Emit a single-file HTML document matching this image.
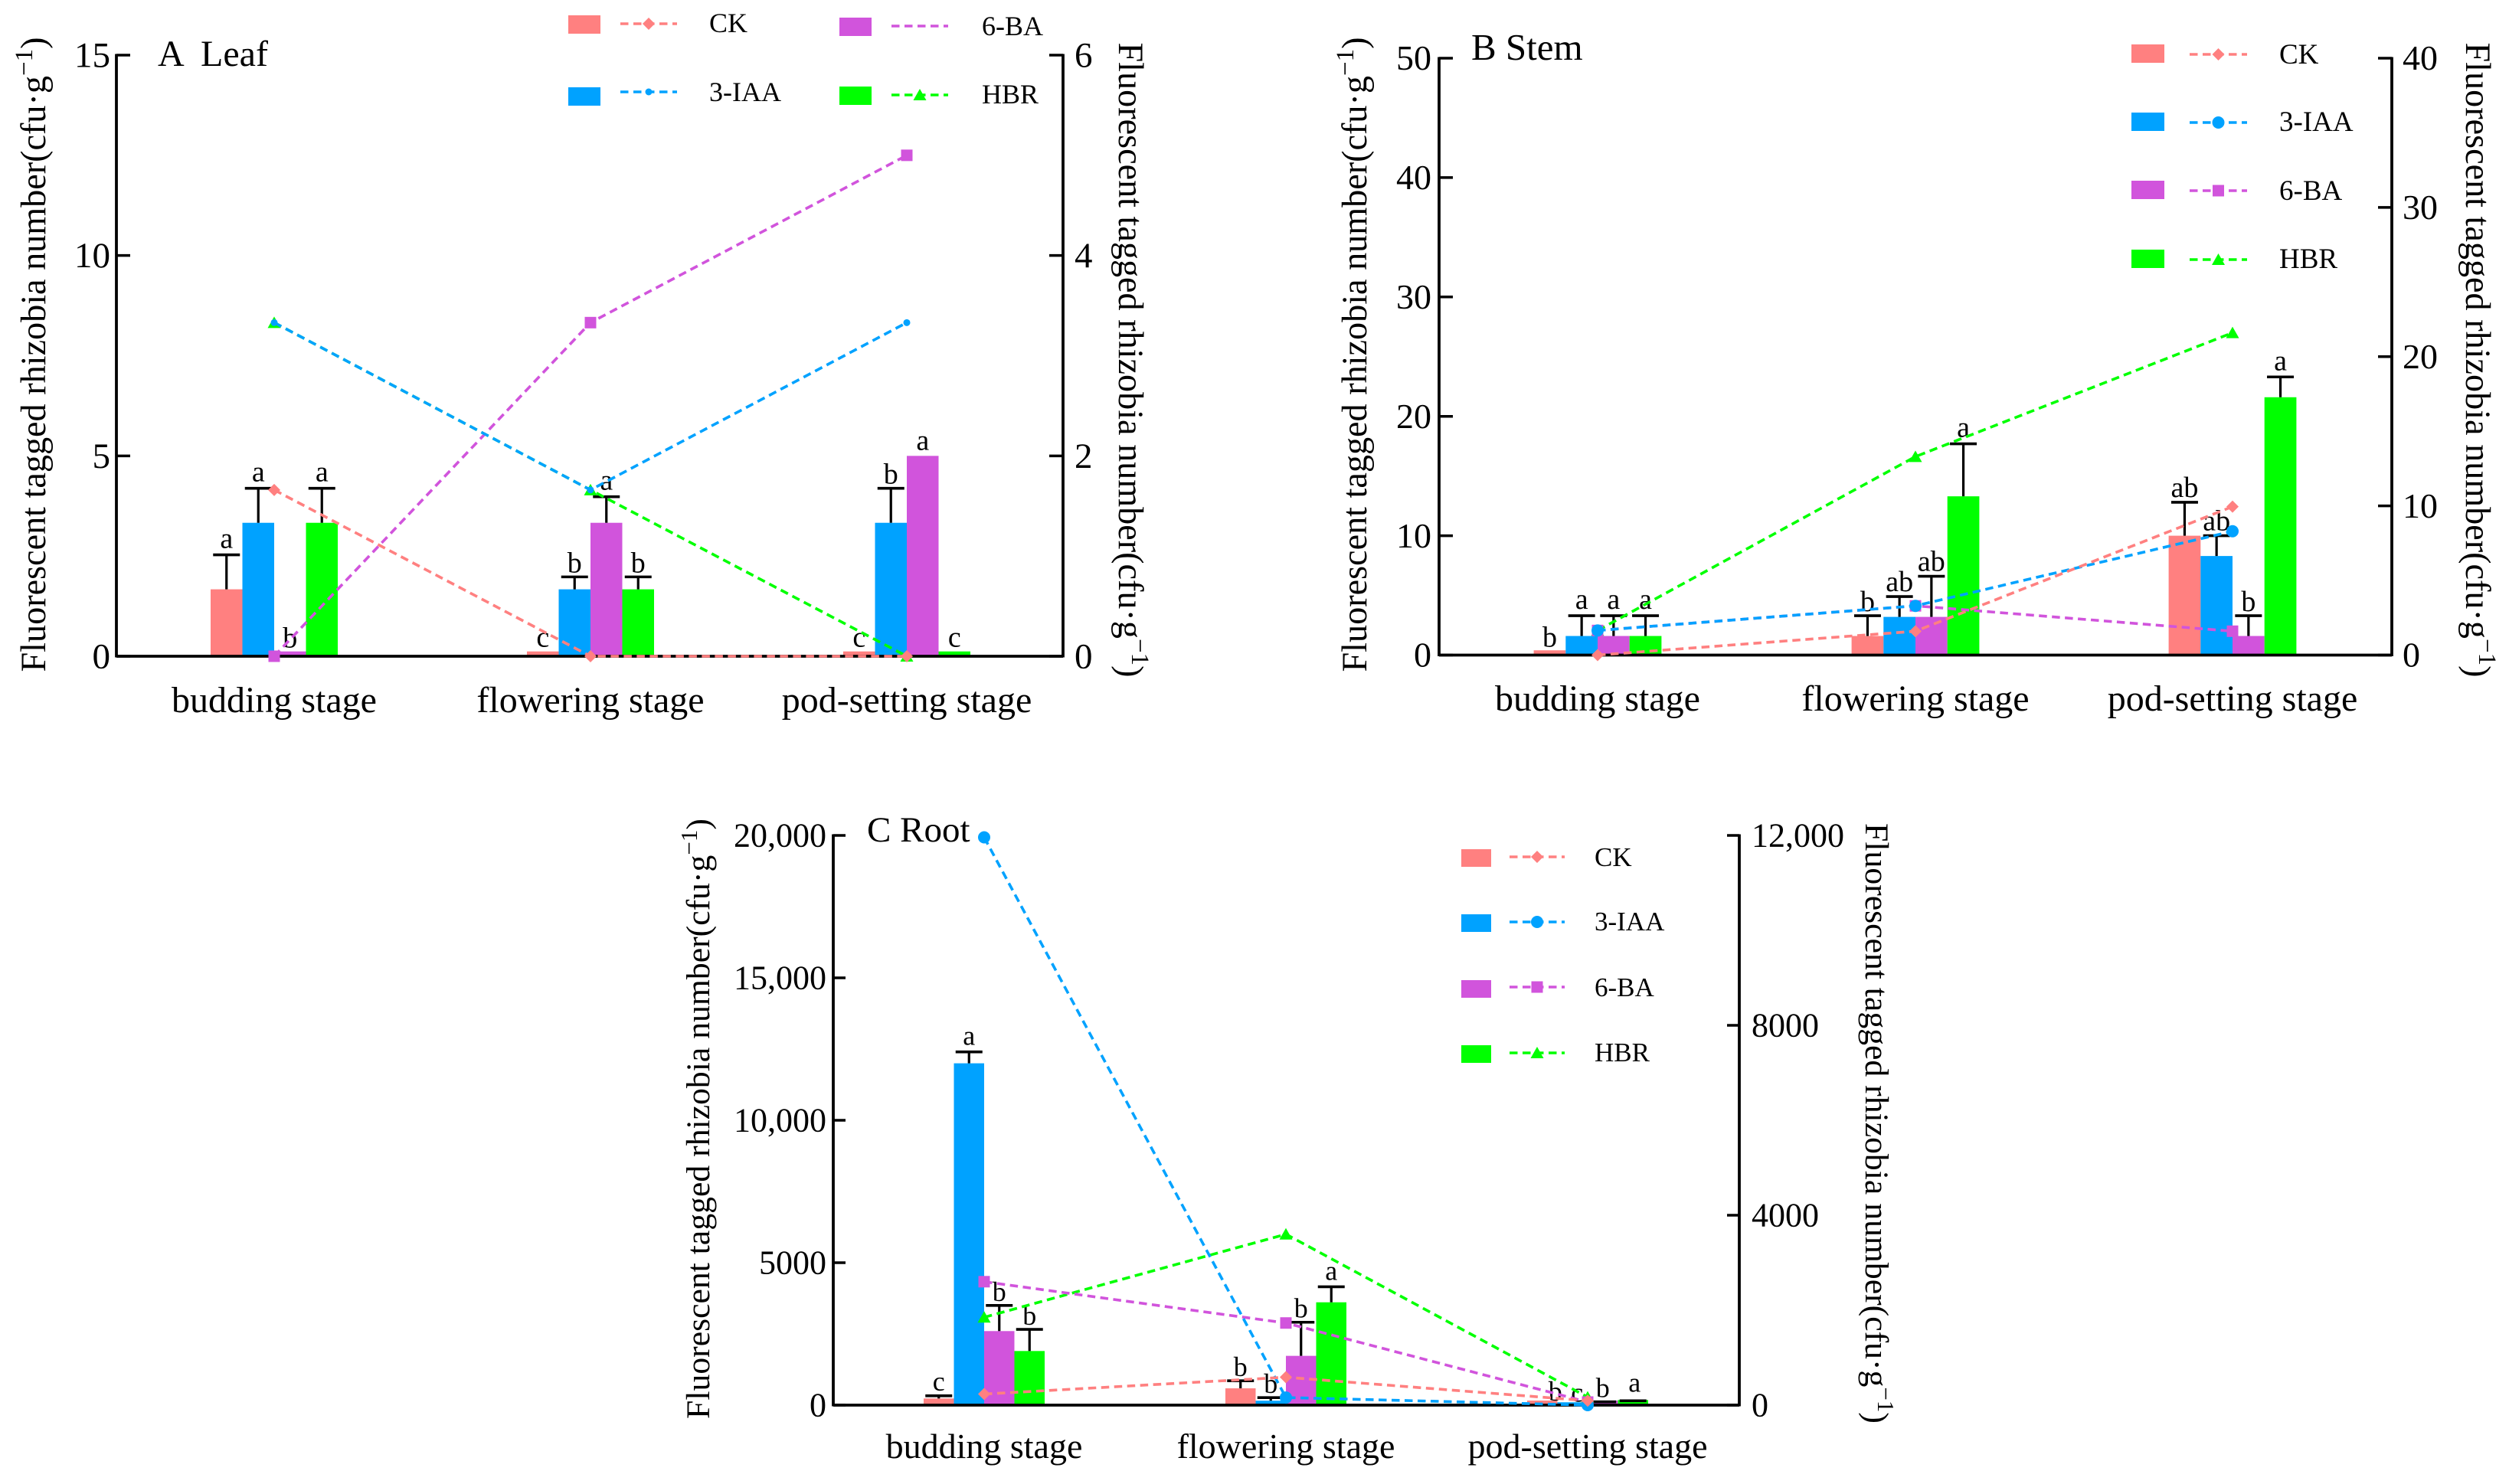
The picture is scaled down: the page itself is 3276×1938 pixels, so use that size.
<!DOCTYPE html>
<html lang="en">
<head>
<meta charset="utf-8">
<title>Fluorescent tagged rhizobia number</title>
<style>
html,body{margin:0;padding:0;background:#fff;}
svg{display:block;}
text{font-family:"Liberation Serif","Times New Roman",serif;fill:#000;}
</style>
</head>
<body>
<svg id="fig" xmlns="http://www.w3.org/2000/svg" width="3276" height="1938" viewBox="0 0 3276 1938">
<rect x="0" y="0" width="3276" height="1938" fill="#fff"/>

<text transform="translate(59,463) rotate(-90)" text-anchor="middle" font-size="46.2">Fluorescent tagged rhizobia number(cfu·g<tspan dy="-17" font-size="33">−1</tspan><tspan dy="17">)</tspan></text>
<text transform="translate(1461,470) rotate(90)" text-anchor="middle" font-size="46.2">Fluorescent tagged rhizobia number(cfu·g<tspan dy="-17" font-size="33">−1</tspan><tspan dy="17">)</tspan></text>
<text x="206" y="86" font-size="48" xml:space="preserve">A  Leaf</text>

<text transform="translate(1784,463) rotate(-90)" text-anchor="middle" font-size="46.2">Fluorescent tagged rhizobia number(cfu·g<tspan dy="-17" font-size="33">−1</tspan><tspan dy="17">)</tspan></text>
<text transform="translate(3220,470) rotate(90)" text-anchor="middle" font-size="46.2">Fluorescent tagged rhizobia number(cfu·g<tspan dy="-17" font-size="33">−1</tspan><tspan dy="17">)</tspan></text>
<text x="1921" y="78" font-size="49">B Stem</text>

<text transform="translate(926,1461) rotate(-90)" text-anchor="middle" font-size="43.7">Fluorescent tagged rhizobia number(cfu·g<tspan dy="-16" font-size="31">−1</tspan><tspan dy="16">)</tspan></text>
<text transform="translate(2436,1467) rotate(90)" text-anchor="middle" font-size="43.7">Fluorescent tagged rhizobia number(cfu·g<tspan dy="-16" font-size="31">−1</tspan><tspan dy="16">)</tspan></text>
<text x="1132" y="1099" font-size="47">C Root</text>
</svg>

<script>
// ---------- shared data ----------
const categories = ["budding stage", "flowering stage", "pod-setting stage"];
const seriesNames = ["CK", "3-IAA", "6-BA", "HBR"];
const seriesColors = ["#FF8080", "#00A2FF", "#D154DC", "#00FF00"];

// ---------- A Leaf ----------
const leafTicksLeft = [0, 5, 10, 15];
const leafTickLabelsLeft = ["0", "5", "10", "15"];
const leafTicksRight = [0, 2, 4, 6];
const leafTickLabelsRight = ["0", "2", "4", "6"];
const leafBarCK = [1.67, 0.12, 0.12];
const leafBarIAA = [3.33, 1.67, 3.33];
const leafBarBA = [0.12, 3.33, 5.0];
const leafBarHBR = [3.33, 1.67, 0.12];
const leafErrCK = [2.53, null, null];
const leafErrIAA = [4.19, 1.98, 4.19];
const leafErrBA = [null, 3.98, null];
const leafErrHBR = [4.19, 1.98, null];
const leafLineCK = [1.66, 0, 0];
const leafLineIAA = [3.33, 1.66, 3.33];
const leafLineBA = [0, 3.33, 5.0];
const leafLineHBR = [3.33, 1.66, 0];
const leafLettersCK = ["a", "c", "c"];
const leafLettersIAA = ["a", "b", "b"];
const leafLettersBA = ["b", "a", "a"];
const leafLettersHBR = ["a", "b", "c"];

// ---------- B Stem ----------
const stemTicksLeft = [0, 10, 20, 30, 40, 50];
const stemTickLabelsLeft = ["0", "10", "20", "30", "40", "50"];
const stemTicksRight = [0, 10, 20, 30, 40];
const stemTickLabelsRight = ["0", "10", "20", "30", "40"];
const stemBarCK = [0.4, 1.6, 10.0];
const stemBarIAA = [1.6, 3.2, 8.3];
const stemBarBA = [1.6, 3.2, 1.6];
const stemBarHBR = [1.6, 13.3, 21.6];
const stemErrCK = [null, 3.3, 12.8];
const stemErrIAA = [3.3, 4.9, 10.0];
const stemErrBA = [3.3, 6.6, 3.3];
const stemErrHBR = [3.3, 17.7, 23.3];
const stemLineCK = [0, 1.6, 9.95];
const stemLineIAA = [1.65, 3.3, 8.3];
const stemLineBA = [1.65, 3.3, 1.6];
const stemLineHBR = [1.65, 13.3, 21.6];
const stemLettersCK = ["b", "b", "ab"];
const stemLettersIAA = ["a", "ab", "ab"];
const stemLettersBA = ["a", "ab", "b"];
const stemLettersHBR = ["a", "a", "a"];

// ---------- C Root ----------
const rootTicksLeft = [0, 5000, 10000, 15000, 20000];
const rootTickLabelsLeft = ["0", "5000", "10,000", "15,000", "20,000"];
const rootTicksRight = [0, 4000, 8000, 12000];
const rootTickLabelsRight = ["0", "4000", "8000", "12,000"];
const rootBarCK = [233, 590, 160];
const rootBarIAA = [12000, 155, 100];
const rootBarBA = [2600, 1730, 160];
const rootBarHBR = [1900, 3610, 180];
const rootErrCK = [327, 856, null];
const rootErrIAA = [12400, 265, null];
const rootErrBA = [3500, 2910, 115];
const rootErrHBR = [2660, 4155, 153];
const rootLineCK = [233, 588, 93];
const rootLineIAA = [11960, 160, 0];
const rootLineBA = [2600, 1730, 65];
const rootLineHBR = [1850, 3600, 168];
const rootLettersCK = ["c", "b", "b"];
const rootLettersIAA = ["a", "b", "c"];
const rootLettersBA = ["b", "b", "b"];
const rootLettersHBR = ["b", "a", "a"];

// ---------- layout ----------
const letterGaps = { a: 9, b: 6, c: 7, ab: 7 };
const panels = [
  { id: "leaf", left: 152, right: 1388, top: 72, bottom: 857, centers: [358, 771, 1184], barW: 41.5,
    maxL: 15, maxR: 6, ticksL: leafTicksLeft, labelsL: leafTickLabelsLeft, ticksR: leafTicksRight, labelsR: leafTickLabelsRight,
    bars: [leafBarCK, leafBarIAA, leafBarBA, leafBarHBR], errs: [leafErrCK, leafErrIAA, leafErrBA, leafErrHBR],
    lines: [leafLineCK, leafLineIAA, leafLineBA, leafLineHBR], letters: [leafLettersCK, leafLettersIAA, leafLettersBA, leafLettersHBR],
    tickFont: 47, catFont: 48, catBase: 930, letterFont: 38, tickLen: 18, gapL: 8, gapR: 15, circleR: 4.5, letterAdjust: {},
    legend: { font: 36, swW: 42, swH: 24, lineW: 74, items: [
      { sx: 742, sy: 20, lx: 810, ly: 31, tx: 926, ty: 42 },
      { sx: 742, sy: 114, lx: 810, ly: 120, tx: 926, ty: 132 },
      { sx: 1096, sy: 23, lx: 1164, ly: 34, tx: 1282, ty: 46, noMarker: true },
      { sx: 1096, sy: 113, lx: 1164, ly: 124, tx: 1282, ty: 135 } ] } },
  { id: "stem", left: 1879, right: 3123, top: 76, bottom: 855.5, centers: [2086, 2501, 2915], barW: 41.7,
    maxL: 50, maxR: 40, ticksL: stemTicksLeft, labelsL: stemTickLabelsLeft, ticksR: stemTicksRight, labelsR: stemTickLabelsRight,
    bars: [stemBarCK, stemBarIAA, stemBarBA, stemBarHBR], errs: [stemErrCK, stemErrIAA, stemErrBA, stemErrHBR],
    lines: [stemLineCK, stemLineIAA, stemLineBA, stemLineHBR], letters: [stemLettersCK, stemLettersIAA, stemLettersBA, stemLettersHBR],
    tickFont: 46, catFont: 48, catBase: 928, letterFont: 38, tickLen: 18, gapL: 10, gapR: 14, circleR: 8, letterAdjust: {},
    legend: { font: 37, swW: 43, swH: 24, lineW: 75, items: [
      { sx: 2783, sy: 58, lx: 2859, ly: 71, tx: 2976, ty: 83 },
      { sx: 2783, sy: 147, lx: 2859, ly: 160, tx: 2976, ty: 171 },
      { sx: 2783, sy: 236, lx: 2859, ly: 249, tx: 2976, ty: 261 },
      { sx: 2783, sy: 326, lx: 2859, ly: 339, tx: 2976, ty: 350 } ] } },
  { id: "root", left: 1088, right: 2271, top: 1091, bottom: 1835, centers: [1285, 1679, 2073], barW: 39.5,
    maxL: 20000, maxR: 12000, ticksL: rootTicksLeft, labelsL: rootTickLabelsLeft, ticksR: rootTicksRight, labelsR: rootTickLabelsRight,
    bars: [rootBarCK, rootBarIAA, rootBarBA, rootBarHBR], errs: [rootErrCK, rootErrIAA, rootErrBA, rootErrHBR],
    lines: [rootLineCK, rootLineIAA, rootLineBA, rootLineHBR], letters: [rootLettersCK, rootLettersIAA, rootLettersBA, rootLettersHBR],
    tickFont: 44, catFont: 46, catBase: 1904, letterFont: 36, tickLen: 16, gapL: 9, gapR: 16, circleR: 8,
    letterAdjust: { "2,0": [17, 5], "2,1": [6, 5], "2,2": [0, 0], "2,3": [2, -3] },
    legend: { font: 35, swW: 39, swH: 23, lineW: 72, items: [
      { sx: 1908, sy: 1109, lx: 1971, ly: 1119, tx: 2082, ty: 1131 },
      { sx: 1908, sy: 1194, lx: 1971, ly: 1204, tx: 2082, ty: 1215 },
      { sx: 1908, sy: 1280, lx: 1971, ly: 1289, tx: 2082, ty: 1301 },
      { sx: 1908, sy: 1365, lx: 1971, ly: 1375, tx: 2082, ty: 1386 } ] } }
];

// ---------- drawing ----------
const svg = document.getElementById("fig");
const NS = "http://www.w3.org/2000/svg";
function make(tag, attrs, parent) {
  const node = document.createElementNS(NS, tag);
  for (const k in attrs) node.setAttribute(k, attrs[k]);
  (parent || svg).appendChild(node);
  return node;
}
function slug(name) { return name.toLowerCase().replace(/[^a-z0-9]+/g, ""); }

function drawMarker(kind, cx, cy, color, circleR, parent, name) {
  let el;
  if (kind === 0) {
    el = make("polygon", { points: (cx - 8) + "," + cy + " " + cx + "," + (cy - 8) + " " + (cx + 8) + "," + cy + " " + cx + "," + (cy + 8), fill: color }, parent);
  } else if (kind === 1) {
    el = make("circle", { cx: cx, cy: cy, r: circleR, fill: color }, parent);
  } else if (kind === 2) {
    el = make("rect", { x: cx - 7.5, y: cy - 7.5, width: 15, height: 15, fill: color }, parent);
  } else {
    el = make("polygon", { points: (cx - 8.5) + "," + (cy + 7) + " " + cx + "," + (cy - 8) + " " + (cx + 8.5) + "," + (cy + 7), fill: color }, parent);
  }
  
  
}

function drawPanel(p) {
  const plotH = p.bottom - p.top;
  const yLeft = function (v) { return p.bottom - (v / p.maxL) * plotH; };
  const yRight = function (v) { return p.bottom - (v / p.maxR) * plotH; };
  const barCenter = function (c, s) { return p.centers[c] + (s - 1.5) * p.barW; };

  const group = make("g", {});
  
  

  // bars
  p.bars.forEach(function (vals, s) {
    vals.forEach(function (v, c) {
      const bar = make("rect", { x: barCenter(c, s) - p.barW / 2, y: yLeft(v), width: p.barW, height: p.bottom - yLeft(v), fill: seriesColors[s] }, group);
      
      
    });
  });

  // error bars
  p.errs.forEach(function (vals, s) {
    vals.forEach(function (v, c) {
      if (v === null) return;
      const x = barCenter(c, s);
      const stem = make("line", { x1: x, x2: x, y1: yLeft(p.bars[s][c]), y2: yLeft(v), stroke: "#000", "stroke-width": 3.2 }, group);
      
      
      const cap = make("line", { x1: x - 17.5, x2: x + 17.5, y1: yLeft(v), y2: yLeft(v), stroke: "#000", "stroke-width": 3.6 }, group);
      
      
    });
  });

  // axes
  const axes = [
    [p.left, p.top - 1.5, p.left, p.bottom + 1.5, 'left-y-axis'],
    [p.right, p.top - 1.5, p.right, p.bottom + 1.5, 'right-y-axis'],
    [p.left, p.bottom, p.right, p.bottom, 'x-axis']
  ];
  axes.forEach(function (a) {
    const ax = make("line", { x1: a[0], y1: a[1], x2: a[2], y2: a[3], stroke: "#000", "stroke-width": 3.8 }, group);
    
    
  });

  p.ticksL.forEach(function (v, i) {
    const y = yLeft(v);
    const t = make("line", { x1: p.left, x2: p.left + p.tickLen, y1: y, y2: y, stroke: "#000", "stroke-width": 3.5 }, group);
    
    
    const lab = make("text", { x: p.left - p.gapL, y: y + p.tickFont * 0.33, "text-anchor": "end", "font-size": p.tickFont }, group);
    lab.textContent = p.labelsL[i];
    
    
  });
  p.ticksR.forEach(function (v, i) {
    const y = yRight(v);
    const t = make("line", { x1: p.right - p.tickLen, x2: p.right, y1: y, y2: y, stroke: "#000", "stroke-width": 3.5 }, group);
    
    
    const lab = make("text", { x: p.right + p.gapR, y: y + p.tickFont * 0.33, "font-size": p.tickFont }, group);
    lab.textContent = p.labelsR[i];
    
    
  });

  // category labels
  categories.forEach(function (name, c) {
    const lab = make("text", { x: p.centers[c], y: p.catBase, "text-anchor": "middle", "font-size": p.catFont }, group);
    lab.textContent = name;
    
    
  });

  // significance letters
  p.letters.forEach(function (vals, s) {
    vals.forEach(function (letter, c) {
      const e = p.errs[s][c];
      const gap = letterGaps[letter];
      const ref = e === null ? yLeft(p.bars[s][c]) - gap + 1 : yLeft(e) - gap;
      const adj = p.letterAdjust[c + "," + s] || [0, 0];
      const lab = make("text", { x: barCenter(c, s) + adj[0], y: ref + adj[1], "text-anchor": "middle", "font-size": p.letterFont }, group);
      lab.textContent = letter;
      
      
    });
  });

  // lines with markers, HBR first and CK last
  [3, 2, 1, 0].forEach(function (s) {
    const pts = p.lines[s].map(function (v, c) { return p.centers[c] + "," + yRight(v); }).join(" ");
    const ln = make("polyline", { points: pts, fill: "none", stroke: seriesColors[s], "stroke-width": 3.6, "stroke-dasharray": "10.5 6.5" }, group);
    
    
    p.lines[s].forEach(function (v, c) {
      drawMarker(s, p.centers[c], yRight(v), seriesColors[s], p.circleR, group, p.id + '-marker-' + slug(seriesNames[s]));
    });
  });

  // legend
  const lg = p.legend;
  lg.items.forEach(function (it, s) {
    const entry = make("g", {}, group);
    
    
    const sw = make("rect", { x: it.sx, y: it.sy, width: lg.swW, height: lg.swH, fill: seriesColors[s] }, entry);
    
    
    const ll = make("line", { x1: it.lx, x2: it.lx + lg.lineW, y1: it.ly, y2: it.ly, stroke: seriesColors[s], "stroke-width": 3.6, "stroke-dasharray": "10.5 6.5" }, entry);
    
    
    if (!it.noMarker) drawMarker(s, it.lx + lg.lineW / 2, it.ly, seriesColors[s], p.circleR, entry, 'legend-marker');
    const tx = make("text", { x: it.tx, y: it.ty, "font-size": lg.font }, entry);
    tx.textContent = seriesNames[s];
    
    
  });
}

panels.forEach(drawPanel);
</script>
</body>
</html>
